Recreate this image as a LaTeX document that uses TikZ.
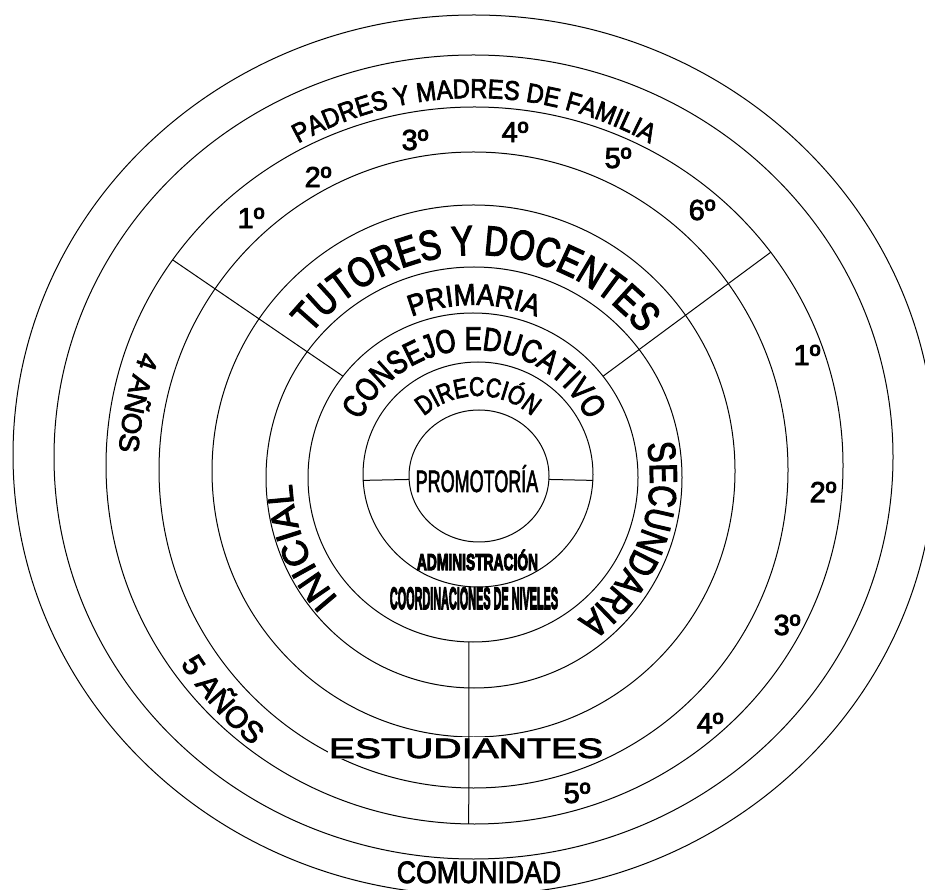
\documentclass[tikz,border=0pt]{standalone}
\usepackage{graphicx}
\usepackage{fontspec}
\setmainfont{Liberation Sans}
\newfontfamily\heavyfont[FakeBold=2.5]{Liberation Sans}
\newfontfamily\midfont[FakeStretch=0.88,FakeBold=2.5]{Liberation Sans}
\newfontfamily\narrowfont[FakeStretch=0.78,FakeBold=2.5]{Liberation Sans}
\newfontfamily\squashfont[FakeBold=5]{Liberation Sans}
\usetikzlibrary{decorations.text}
\newcommand{\fsz}[1]{\fontsize{#1}{#1}\selectfont}

\begin{document}
\begin{tikzpicture}[x=1pt,y=1pt,
  ring/.style={line width=1pt},
  spoke/.style={line width=1pt},
  curved/.style={decorate,decoration={text along path,text align=center}},
  grade/.style={font=\fsz{29}\heavyfont,inner sep=0pt},
  flat/.style={inner sep=0pt,anchor=base}]
  \useasboundingbox[fill=white] (0,0) rectangle (925,889);

  % ring centres (they drift a little)
  \coordinate (o1) at (479,413);
  \coordinate (o2) at (478,414.5);
  \coordinate (o3) at (473,411.5);
  \coordinate (o4) at (474,411.5);
  \coordinate (o5) at (473.5,418);
  \coordinate (o6) at (473.5,419);
  \coordinate (o7) at (474.5,423.5);
  \coordinate (o8) at (473.5,432);
  \coordinate (o9) at (474,434);

  % rings
  \draw[ring] (o1) ellipse [x radius=70,y radius=66];
  \draw[ring] (o2) ellipse [x radius=115,y radius=112.5];
  \draw[ring] (o3) ellipse [x radius=165,y radius=164.5];
  \draw[ring] (o4) ellipse [x radius=208,y radius=210.5];
  \draw[ring] (o5) ellipse [x radius=261.5,y radius=266];
  \draw[ring] (o6) ellipse [x radius=314.5,y radius=318];
  \draw[ring] (o7) ellipse [x radius=368.5,y radius=358.5];
  \draw[ring] (o8) ellipse [x radius=419.5,y radius=402];
  \draw[ring] (o9) ellipse [x radius=461,y radius=440];

  % spoke ends
  \coordinate (lin) at ([shift={(o1)}]183:70 and 66);
  \coordinate (lout) at ([shift={(o2)}]183:115 and 112.5);
  \coordinate (rin) at ([shift={(o1)}]-3:70 and 66);
  \coordinate (rout) at ([shift={(o2)}]-3:115 and 112.5);
  \coordinate (ulin) at ([shift={(o3)}]142:165 and 164.5);
  \coordinate (ulout) at ([shift={(o7)}]145:368.5 and 358.5);
  \coordinate (urin) at ([shift={(o3)}]38:165 and 164.5);
  \coordinate (urout) at ([shift={(o7)}]36.5:368.5 and 358.5);
  \coordinate (dnin) at ([shift={(o3)}]268.6:165 and 164.5);
  \coordinate (dnout) at ([shift={(o7)}]269.1:368.5 and 358.5);

  \draw[spoke] (lin) -- (lout);
  \draw[spoke] (rin) -- (rout);
  \draw[spoke] (ulin) -- (ulout);
  \draw[spoke] (urin) -- (urout);

  % centres of the bent labels
  \coordinate (c) at (474,412);
  \coordinate (cp) at (474,429);
  \coordinate (ct) at (476,422);
  \coordinate (cd) at (478,411);

  % bent labels
  \path[curved,decoration={text={|\fsz{27}\midfont|PADRES Y MADRES DE FAMILIA}}]
    ([shift={(cp)}]150:362) arc[start angle=150,end angle=30,radius=362];
  \path[curved,decoration={text={|\fsz{42}\narrowfont|TUTORES Y DOCENTES}}]
    ([shift={(ct)}]160:212) arc[start angle=160,end angle=20,radius=212];
  \path[curved,decoration={text={|\fsz{30}\midfont|PRIMARIA}}]
    ([shift={(c)}]150:172) arc[start angle=150,end angle=30,radius=172];
  \path[curved,decoration={text={|\fsz{33}\narrowfont|CONSEJO EDUCATIVO}}]
    ([shift={(c)}]175:127) arc[start angle=175,end angle=5,radius=127];
  \path[curved,decoration={text={|\fsz{27}\narrowfont|DIRECCIÓN}}]
    ([shift={(cd)}]150:82) arc[start angle=150,end angle=30,radius=82];
  \path[curved,decoration={text={|\fsz{36}\heavyfont|INICIAL}}]
    ([shift={(c)}]247:182) arc[start angle=247,end angle=157,radius=182];
  \path[curved,decoration={text={|\fsz{39}\narrowfont|SECUNDARIA}}]
    ([shift={(c)}]28.5:176) arc[start angle=28.5,end angle=-71.5,radius=176];
  \path[curved,decoration={text={|\fsz{28}\heavyfont|4 AÑOS}}]
    ([shift={(c)}]137.6:356) arc[start angle=137.6,end angle=197.6,radius=356];
  \path[curved,decoration={text={|\fsz{30}\heavyfont|5 AÑOS}}]
    ([shift={(c)}]191.5:348) arc[start angle=191.5,end angle=251.5,radius=348];

  % straight labels
  \node[flat] (promo) at (477,397) {\fsz{31}\heavyfont\scalebox{0.58}[1]{PROMOTORÍA}};
  \node[flat] (admin) at (477.5,319) {\fsz{23}\squashfont\bfseries\scalebox{0.6}[1]{ADMINISTRACIÓN}};
  \node[flat] (coord) at (474,280) {\fsz{31}\squashfont\bfseries\scalebox{0.35}[1]{COORDINACIONES DE NIVELES}};
  \node[flat,fill=white,inner sep=1pt] (stud) at (466,131) {\fsz{28}\heavyfont\scalebox{1.4}[1]{ESTUDIANTES}};
  \node[flat] (comu) at (479,6) {\fsz{31}\heavyfont\scalebox{0.86}[1]{COMUNIDAD}};

  \draw[spoke] (dnin) -- (dnout);

  % grades
  \foreach \n/\x/\y in {1/251/671,2/318/712,3/415/749,4/515/757,5/618/731,6/702/679}
    \node[grade] (p\n) at (\x,\y) {\n{}º};
  \foreach \n/\x/\y in {1/807/534,2/823/397,3/787/264,4/710/166,5/577/96}
    \node[grade] (s\n) at (\x,\y) {\n{}º};
\end{tikzpicture}
\end{document}
